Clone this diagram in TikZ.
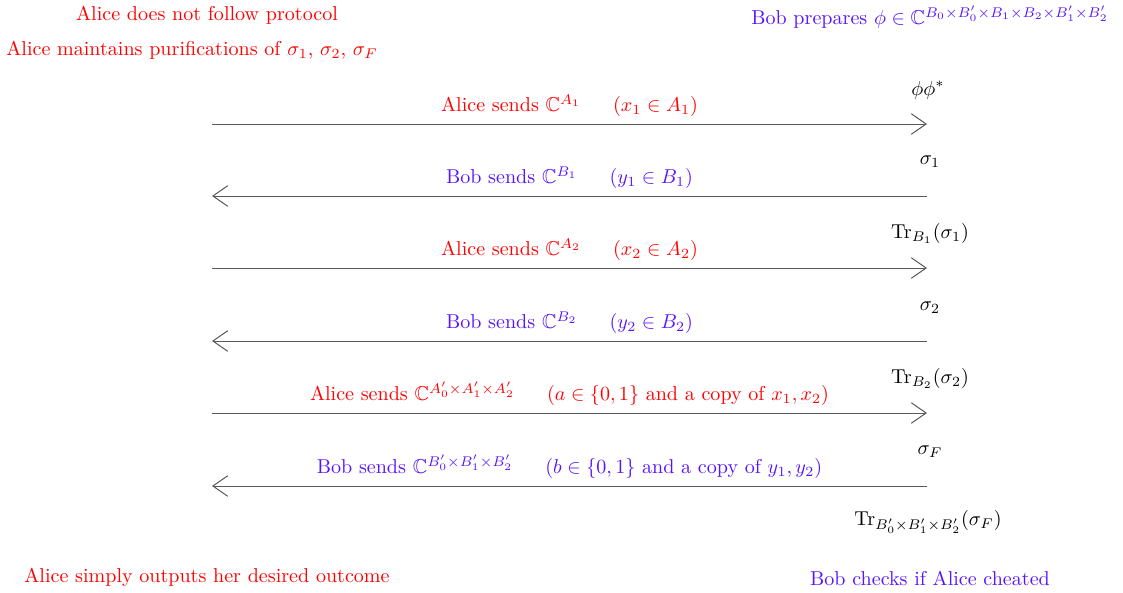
\documentclass[tikz,border=0pt]{standalone}
\usepackage{amsmath,amssymb}
\usetikzlibrary{arrows.meta}
\definecolor{bobblue}{RGB}{85,20,255}
\tikzset{msg/.style={draw=black!65, line width=0.5pt, -{Straight Barb[length=2.6mm,width=3.6mm]}}}

\begin{document}
\begin{tikzpicture}[x=0.0175cm,y=-0.0175cm]
    \useasboundingbox (0,0) rectangle (1123,592);

    % what each side does
    \node[red] (anote) at (207,15) {Alice does not follow protocol};
    \node[red, anchor=west, inner sep=0pt] (apure) at (6,50) {Alice maintains purifications of $\sigma_1$, $\sigma_2$, $\sigma_F$};
    \node[bobblue] (bprep) at (930,17) {Bob prepares $\phi\in\mathbb{C}^{B_0\times B_0'\times B_1\times B_2\times B_1'\times B_2'}$};
    \node[red] (aout) at (207,577) {Alice simply outputs her desired outcome};
    \node[bobblue] (bcheck) at (930,578) {Bob checks if Alice cheated};

    % Bob's state
    \node (s0) at (928,90) {$\phi\phi^*$};
    \node (s1) at (930,162) {$\sigma_1$};
    \node (s2) at (930,233) {$\mathrm{Tr}_{B_1}(\sigma_1)$};
    \node (s3) at (930,308) {$\sigma_2$};
    \node (s4) at (930,378) {$\mathrm{Tr}_{B_2}(\sigma_2)$};
    \node (s5) at (930,452) {$\sigma_F$};
    \node (s6) at (928,522) {$\mathrm{Tr}_{B_0'\times B_1'\times B_2'}(\sigma_F)$};

    % message ends
    \coordinate (l1) at (212,124); \coordinate (r1) at (927,124);
    \coordinate (l2) at (212,196); \coordinate (r2) at (927,196);
    \coordinate (l3) at (212,268); \coordinate (r3) at (927,268);
    \coordinate (l4) at (212,341); \coordinate (r4) at (927,341);
    \coordinate (l5) at (212,413); \coordinate (r5) at (927,413);
    \coordinate (l6) at (212,486); \coordinate (r6) at (927,486);

    \draw[msg] (l1) -- (r1) node[midway, above, red] (m1) {Alice sends $\mathbb{C}^{A_1}$\hspace{1.6em}$(x_1\in A_1)$};
    \draw[msg] (r2) -- (l2) node[midway, above, bobblue] (m2) {Bob sends $\mathbb{C}^{B_1}$\hspace{1.6em}$(y_1\in B_1)$};
    \draw[msg] (l3) -- (r3) node[midway, above, red] (m3) {Alice sends $\mathbb{C}^{A_2}$\hspace{1.6em}$(x_2\in A_2)$};
    \draw[msg] (r4) -- (l4) node[midway, above, bobblue] (m4) {Bob sends $\mathbb{C}^{B_2}$\hspace{1.6em}$(y_2\in B_2)$};
    \draw[msg] (l5) -- (r5) node[midway, above, red] (m5) {Alice sends $\mathbb{C}^{A_0'\times A_1'\times A_2'}$\hspace{1.6em}($a\in\{0,1\}$ and a copy of $x_1,x_2$)};
    \draw[msg] (r6) -- (l6) node[midway, above, bobblue] (m6) {Bob sends $\mathbb{C}^{B_0'\times B_1'\times B_2'}$\hspace{1.6em}($b\in\{0,1\}$ and a copy of $y_1,y_2$)};
\end{tikzpicture}
\end{document}
